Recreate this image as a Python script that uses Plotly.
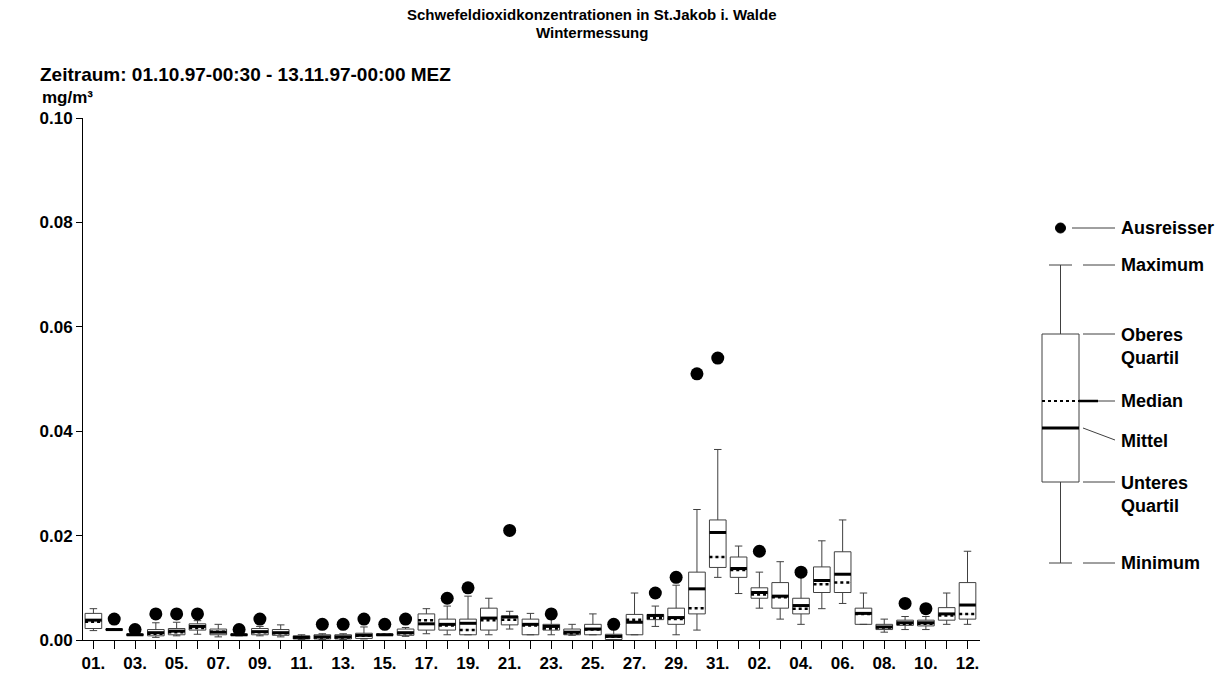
import plotly.graph_objects as go

# ---- data (mg/m³), one entry per day 01.10.97 .. 12.11.97 ----
day_labels = ["01.", "02.", "03.", "04.", "05.", "06.", "07.", "08.", "09.", "10.",
              "11.", "12.", "13.", "14.", "15.", "16.", "17.", "18.", "19.", "20.",
              "21.", "22.", "23.", "24.", "25.", "26.", "27.", "28.", "29.", "30.",
              "31.", "01.", "02.", "03.", "04.", "05.", "06.", "07.", "08.", "09.",
              "10.", "11.", "12."]

minimum = [0.0018, 0.0019, 0.0009, 0.0005, 0.0008, 0.0011, 0.0006, 0.0008, 0.0008, 0.0006,
           0.0001, 0.0001, 0.0001, 0.0002, 0.0009, 0.0007, 0.0012, 0.0010, 0.0010, 0.0010,
           0.0021, 0.0010, 0.0010, 0.0009, 0.0010, 0.0001, 0.0010, 0.0026, 0.0010, 0.0019,
           0.0120, 0.0089, 0.0061, 0.0040, 0.0030, 0.0060, 0.0070, 0.0030, 0.0015, 0.0020,
           0.0020, 0.0030, 0.0030]
q1 = [0.0022, 0.0019, 0.0009, 0.0008, 0.0010, 0.0019, 0.0010, 0.0009, 0.0010, 0.0009,
      0.0002, 0.0002, 0.0002, 0.0003, 0.0009, 0.0009, 0.0019, 0.0019, 0.0010, 0.0019,
      0.0029, 0.0010, 0.0019, 0.0010, 0.0010, 0.0001, 0.0010, 0.0039, 0.0030, 0.0050,
      0.0139, 0.0120, 0.0080, 0.0061, 0.0050, 0.0091, 0.0091, 0.0030, 0.0020, 0.0028,
      0.0027, 0.0038, 0.0040]
median = [0.0035, 0.0020, 0.0010, 0.0012, 0.0015, 0.0023, 0.0016, 0.0010, 0.0015, 0.0013,
          0.0005, 0.0005, 0.0005, 0.0008, 0.0010, 0.0013, 0.0038, 0.0028, 0.0019, 0.0038,
          0.0039, 0.0028, 0.0022, 0.0013, 0.0020, 0.0006, 0.0039, 0.0042, 0.0040, 0.0061,
          0.0159, 0.0134, 0.0087, 0.0082, 0.0060, 0.0107, 0.0110, 0.0050, 0.0024, 0.0031,
          0.0031, 0.0047, 0.0050]
mean = [0.0038, 0.0020, 0.0010, 0.0014, 0.0017, 0.0026, 0.0015, 0.0010, 0.0016, 0.0014,
        0.0005, 0.0006, 0.0006, 0.0009, 0.0010, 0.0014, 0.0031, 0.0030, 0.0032, 0.0042,
        0.0044, 0.0030, 0.0026, 0.0015, 0.0021, 0.0007, 0.0034, 0.0047, 0.0043, 0.0098,
        0.0206, 0.0137, 0.0091, 0.0084, 0.0066, 0.0114, 0.0126, 0.0051, 0.0025, 0.0033,
        0.0033, 0.0050, 0.0067]
q3 = [0.0051, 0.0021, 0.0011, 0.0020, 0.0022, 0.0031, 0.0021, 0.0011, 0.0022, 0.0020,
      0.0008, 0.0010, 0.0010, 0.0013, 0.0011, 0.0021, 0.0050, 0.0040, 0.0040, 0.0061,
      0.0046, 0.0040, 0.0030, 0.0021, 0.0030, 0.0011, 0.0049, 0.0049, 0.0061, 0.0130,
      0.0230, 0.0159, 0.0100, 0.0110, 0.0080, 0.0140, 0.0169, 0.0061, 0.0030, 0.0038,
      0.0038, 0.0062, 0.0110]
maximum = [0.0060, 0.0021, 0.0011, 0.0033, 0.0034, 0.0037, 0.0030, 0.0012, 0.0026, 0.0029,
           0.0010, 0.0012, 0.0012, 0.0025, 0.0011, 0.0024, 0.0060, 0.0065, 0.0084, 0.0080,
           0.0055, 0.0051, 0.0040, 0.0030, 0.0050, 0.0021, 0.0090, 0.0065, 0.0105, 0.0250,
           0.0365, 0.0180, 0.0130, 0.0150, 0.0122, 0.0190, 0.0230, 0.0090, 0.0040, 0.0045,
           0.0045, 0.0090, 0.0170]
outlier_day = [1, 2, 3, 4, 5, 7, 8, 11, 12, 13, 14, 15, 17, 18, 20, 22, 25, 27, 28, 29, 30, 32, 34, 39, 40]
outlier_val = [0.004, 0.002, 0.005, 0.005, 0.005, 0.002, 0.004, 0.003, 0.003, 0.004, 0.003, 0.004,
               0.008, 0.010, 0.021, 0.005, 0.003, 0.009, 0.012, 0.051, 0.054, 0.017, 0.013, 0.007, 0.006]

y_ticks = [0.0, 0.02, 0.04, 0.06, 0.08, 0.10]
y_ticktext = ["0.00", "0.02", "0.04", "0.06", "0.08", "0.10"]

n = len(day_labels)
xs = list(range(n))
BW = 0.8
FONT = "Liberation Sans"
W, H = 1227, 675
L, T, B = 83, 118, 35
PW = 897
PH = H - T - B
R = W - L - PW

fig = go.Figure()
fig.add_trace(go.Box(
    x=xs, q1=q1, median=median, q3=q3, lowerfence=minimum, upperfence=maximum,
    width=BW, whiskerwidth=0.45, boxpoints=False,
    fillcolor="white", line=dict(color="#404040", width=1),
    hoverinfo="skip", showlegend=False,
))

def segs(vals, half):
    sx, sy = [], []
    for i, v in zip(xs, vals):
        sx += [i - half, i + half, None]
        sy += [v, v, None]
    return sx, sy

sx, sy = segs(median, BW / 2 - 0.03)
fig.add_trace(go.Scatter(x=sx, y=sy, mode="lines", line=dict(color="white", width=1.6),
                         hoverinfo="skip", showlegend=False))
sx, sy = segs(median, BW / 2)
fig.add_trace(go.Scatter(x=sx, y=sy, mode="lines", line=dict(color="black", width=2.5, dash="dot"),
                         name="Median", showlegend=False))
sx, sy = segs(mean, BW / 2)
fig.add_trace(go.Scatter(x=sx, y=sy, mode="lines", line=dict(color="black", width=3),
                         name="Mittel", showlegend=False))
fig.add_trace(go.Scatter(x=outlier_day, y=outlier_val, mode="markers",
                         marker=dict(color="black", size=13), name="Ausreisser", showlegend=False))

tick_text = [lab if i % 2 == 0 else "" for i, lab in enumerate(day_labels)]

fig.update_layout(
    width=W, height=H, margin=dict(l=L, r=R, t=T, b=B, autoexpand=False),
    plot_bgcolor="white", paper_bgcolor="white",
    font=dict(family=FONT, size=17, color="black", weight="bold"),
    xaxis=dict(range=[-0.5, n - 0.4], tickvals=xs, ticktext=tick_text, ticks="outside",
               ticklen=8, tickcolor="black", showline=True, linecolor="black", automargin=False,
               showgrid=False, zeroline=False, tickfont=dict(size=17, weight="bold")),
    yaxis=dict(range=[0, 0.10], tickvals=y_ticks, ticktext=y_ticktext, ticks="outside",
               ticklen=6, tickcolor="black", showline=True, linecolor="black", automargin=False,
               showgrid=False, zeroline=False, tickfont=dict(size=17, weight="bold")),
)

def px(x):
    return (x - L) / PW

def py(y):
    return (H - B - y) / PH

ann = []
ann.append(dict(x=px(592), y=py(15), xref="paper", yref="paper", xanchor="center", yanchor="middle",
                text="Schwefeldioxidkonzentrationen in St.Jakob i. Walde",
                showarrow=False, font=dict(size=15, weight="bold")))
ann.append(dict(x=px(592), y=py(33), xref="paper", yref="paper", xanchor="center", yanchor="middle",
                text="Wintermessung", showarrow=False, font=dict(size=15, weight="bold")))
ann.append(dict(x=px(38), y=py(75), xref="paper", yref="paper", xanchor="left", yanchor="middle",
                text="Zeitraum: 01.10.97-00:30 - 13.11.97-00:00 MEZ", showarrow=False,
                font=dict(size=19, weight="bold")))
ann.append(dict(x=px(40), y=py(97), xref="paper", yref="paper", xanchor="left", yanchor="middle",
                text="mg/m³", showarrow=False, font=dict(size=17, weight="bold")))

# ---- schematic key on the right ----
shapes = []
gray = "#404040"
def line(x0, y0, x1, y1, color=gray, width=1, dash=None):
    d = dict(type="line", xref="paper", yref="paper", x0=px(x0), y0=py(y0), x1=px(x1), y1=py(y1),
             line=dict(color=color, width=width))
    if dash:
        d["line"]["dash"] = dash
    shapes.append(d)

bx0, bx1, cx = 1042, 1079, 1060.5
ymax, yq3, ymed, ymean, yq1, ymin, yout = 265, 334, 401, 428, 482, 563, 228
line(cx, ymax, cx, yq3)
line(cx, yq1, cx, ymin)
line(1049, ymax, 1072, ymax)
line(1049, ymin, 1072, ymin)
shapes.append(dict(type="rect", xref="paper", yref="paper", x0=px(bx0), x1=px(bx1), y0=py(yq1), y1=py(yq3),
                   line=dict(color=gray, width=1), fillcolor="white"))
line(bx0, ymed, bx1, ymed, color="black", width=2, dash="dot")
line(bx1, ymed, 1098, ymed, color="black", width=2.5)
line(bx0, ymean, bx1, ymean, color="black", width=3)
shapes.append(dict(type="circle", xref="paper", yref="paper", x0=px(cx - 5), x1=px(cx + 5),
                   y0=py(yout + 5), y1=py(yout - 5), fillcolor="black", line=dict(color="black", width=1)))
line(1072, yout, 1115, yout)
line(1083, ymax, 1115, ymax)
line(1083, yq3, 1115, yq3)
line(1098, ymed, 1115, ymed)
line(1083, ymean, 1115, 440)
line(1083, yq1, 1115, yq1)
line(1083, ymin, 1115, ymin)

for txt, yy in [("Ausreisser", yout), ("Maximum", ymax), ("Oberes<br>Quartil", yq3 + 12),
                ("Median", ymed), ("Mittel", 441), ("Unteres<br>Quartil", yq1 + 12), ("Minimum", ymin)]:
    ann.append(dict(x=px(1119), y=py(yy), xref="paper", yref="paper", xanchor="left", yanchor="middle",
                    text=txt, showarrow=False, align="left", font=dict(size=18, weight="bold")))

fig.update_layout(annotations=ann, shapes=shapes)
fig.write_html("out.html")
